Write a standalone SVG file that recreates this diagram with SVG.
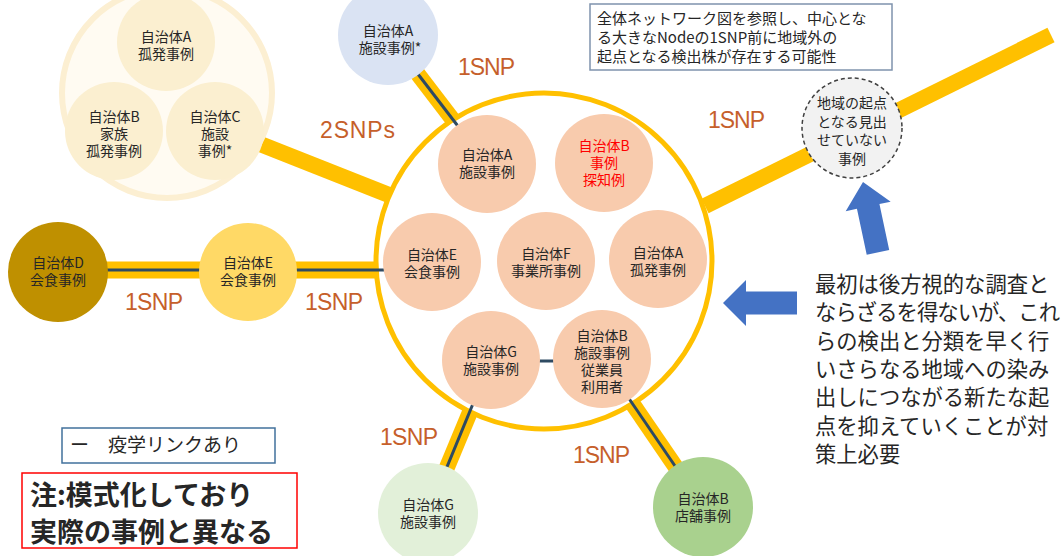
<svg xmlns="http://www.w3.org/2000/svg" width="1063" height="556" viewBox="0 0 1063 556">
<defs>
<style>
.t{font-family:"Noto Sans CJK JP","Noto Sans",sans-serif;font-size:14px;fill:#262626;text-anchor:middle}
.red{fill:#FF0000}
.snp{font-family:"Liberation Sans","Noto Sans",sans-serif;font-size:23px;fill:#C65F2B}
.bar{stroke:#FFC000;stroke-width:16;fill:none}
.epi{stroke:#2E4A62;stroke-width:3;fill:none}
.inner{fill:#F8CBAD}
.cl{fill:#FBEFD0}
.arrow{fill:#4472C4}
.box{font-family:"Noto Sans CJK JP","Noto Sans",sans-serif;fill:#262626}
</style>
</defs>
<rect width="1063" height="556" fill="#FFFFFF"/>

<g id="big-circle">
<circle cx="544" cy="261" r="168" fill="#FFFFFF" stroke="#FFC000" stroke-width="5"/>
</g>

<g id="connectors">
<line class="bar" x1="255" y1="142" x2="389" y2="195"/>
<line class="bar" x1="388" y1="35" x2="453" y2="120"/>
<line class="epi" x1="388" y1="35" x2="487" y2="164"/>
<line class="bar" style="stroke-width:17" x1="58" y1="270" x2="378" y2="270"/>
<line class="epi" x1="58" y1="270" x2="432" y2="270"/>
<line class="bar" x1="428" y1="513" x2="470" y2="412"/>
<line class="epi" x1="428" y1="513" x2="491" y2="360"/>
<line class="bar" x1="703" y1="507" x2="632.5" y2="403.8"/>
<line class="epi" x1="703" y1="507" x2="602" y2="359"/>
<line class="epi" x1="491" y1="361" x2="602" y2="361"/>
<line class="bar" x1="705" y1="206" x2="1051" y2="35"/>
</g>

<g id="cluster">
<circle cx="167" cy="93" r="105" fill="#FFFBF2" stroke="#FCEFD2" stroke-width="6"/>
<g id="cl-a"><circle class="cl" cx="166" cy="42" r="49"/>
<text class="t" x="166" y="41.5">自治体A</text><text class="t" x="166" y="58.5">孤発事例</text></g>
<g id="cl-b"><circle class="cl" cx="114" cy="131" r="49"/>
<text class="t" x="114" y="122">自治体B</text><text class="t" x="114" y="139">家族</text><text class="t" x="114" y="156">孤発事例</text></g>
<g id="cl-c"><circle class="cl" cx="215" cy="131" r="49"/>
<text class="t" x="215" y="122">自治体C</text><text class="t" x="215" y="139">施設</text><text class="t" x="215" y="156">事例*</text></g>
</g>

<g id="top-a"><circle cx="388" cy="35" r="50" fill="#DAE3F3"/>
<text class="t" x="388" y="35.5">自治体A</text><text class="t" x="390" y="52.5">施設事例*</text></g>

<g id="in-a-shisetsu"><circle class="inner" cx="487" cy="164" r="49"/>
<text class="t" x="487" y="160">自治体A</text><text class="t" x="487" y="177">施設事例</text></g>
<g id="in-b-tanchi"><circle class="inner" cx="604" cy="163" r="49"/>
<text class="t red" x="604" y="151">自治体B</text><text class="t red" x="604" y="168">事例</text><text class="t red" x="604" y="185">探知例</text></g>
<g id="in-e"><circle class="inner" cx="432" cy="262" r="49"/>
<text class="t" x="432" y="259.5">自治体E</text><text class="t" x="432" y="276.5">会食事例</text></g>
<g id="in-f"><circle class="inner" cx="546" cy="261" r="49"/>
<text class="t" x="546" y="258.5">自治体F</text><text class="t" x="546" y="275.5">事業所事例</text></g>
<g id="in-a-koha"><circle class="inner" cx="658" cy="259" r="49"/>
<text class="t" x="658" y="258">自治体A</text><text class="t" x="658" y="275">孤発事例</text></g>
<g id="in-g"><circle class="inner" cx="491" cy="360" r="49"/>
<text class="t" x="491" y="356.5">自治体G</text><text class="t" x="491" y="373.5">施設事例</text></g>
<g id="in-b-shisetsu"><circle class="inner" cx="602" cy="359" r="49"/>
<text class="t" x="602" y="340.5">自治体B</text><text class="t" x="602" y="357.5">施設事例</text><text class="t" x="602" y="374.5">従業員</text><text class="t" x="602" y="391.5">利用者</text></g>

<g id="node-d"><circle cx="58" cy="272" r="50" fill="#BF9000"/>
<text class="t" x="58" y="267.5">自治体D</text><text class="t" x="58" y="284.5">会食事例</text></g>
<g id="node-e"><circle cx="248" cy="272" r="49" fill="#FFD966"/>
<text class="t" x="248" y="267.5">自治体E</text><text class="t" x="248" y="284.5">会食事例</text></g>

<g id="node-g-bottom"><circle cx="428" cy="513" r="50" fill="#E2F0D9"/>
<text class="t" x="428" y="509.5">自治体G</text><text class="t" x="428" y="526.5">施設事例</text></g>
<g id="node-b-store"><circle cx="703" cy="507" r="50" fill="#A9D18E"/>
<text class="t" x="703" y="503.5">自治体B</text><text class="t" x="703" y="520.5">店舗事例</text></g>

<g id="node-unknown"><circle cx="852" cy="128" r="50" fill="#F2F2F2" stroke="#404040" stroke-width="1.5" stroke-dasharray="4 3"/>
<text class="t" x="852" y="108.25">地域の起点</text><text class="t" x="852" y="126.75">となる見出</text><text class="t" x="852" y="145.25">せていない</text><text class="t" x="852" y="163.75">事例</text></g>

<g id="snp-labels">
<text class="snp" x="320" y="138" textLength="75">2SNPs</text>
<text class="snp" x="458" y="75" textLength="57">1SNP</text>
<text class="snp" x="708" y="128" textLength="57">1SNP</text>
<text class="snp" x="125" y="310" textLength="58">1SNP</text>
<text class="snp" x="305" y="310" textLength="58">1SNP</text>
<text class="snp" x="380" y="445" textLength="58">1SNP</text>
<text class="snp" x="573" y="463" textLength="57">1SNP</text>
</g>

<g id="note-top">
<rect x="590" y="4" width="302" height="66" fill="#FFFFFF" stroke="#7F93AD" stroke-width="1.5"/>
<text class="box" font-size="15" x="597" y="24">全体ネットワーク図を参照し、中心とな</text>
<text class="box" font-size="15" x="597" y="43">る大きなNodeの1SNP前に地域外の</text>
<text class="box" font-size="15" x="597" y="62">起点となる検出株が存在する可能性</text>
</g>

<g id="arrows">
<polygon class="arrow" transform="translate(863,182) rotate(-12)" points="0,0 23,25 11.5,25 11.5,72 -11.5,72 -11.5,25 -23,25"/>
<polygon class="arrow" points="723,303 746,280 746,291.5 797,291.5 797,314.5 746,314.5 746,326"/>
</g>

<g id="note-right" class="box" font-size="21.3">
<text x="815" y="292">最初は後方視的な調査と</text>
<text x="815" y="320.3" textLength="245">ならざるを得ないが、これ</text>
<text x="815" y="348.6">らの検出と分類を早く行</text>
<text x="815" y="376.9">いさらなる地域への染み</text>
<text x="815" y="405.2">出しにつながる新たな起</text>
<text x="815" y="433.5">点を抑えていくことが対</text>
<text x="815" y="461.8">策上必要</text>
</g>

<g id="legend">
<rect x="62" y="428" width="213" height="35" fill="#FFFFFF" stroke="#41719C" stroke-width="1.5"/>
<text class="box" font-size="19" x="70" y="452">ー　疫学リンクあり</text>
</g>

<g id="caution">
<rect x="22" y="473" width="275" height="75" fill="#FFFFFF" stroke="#FF0000" stroke-width="1.5"/>
<text class="box red" font-size="27" font-weight="bold" x="30" y="505">注:模式化しており</text>
<text class="box red" font-size="27" font-weight="bold" x="30" y="542">実際の事例と異なる</text>
</g>
</svg>
